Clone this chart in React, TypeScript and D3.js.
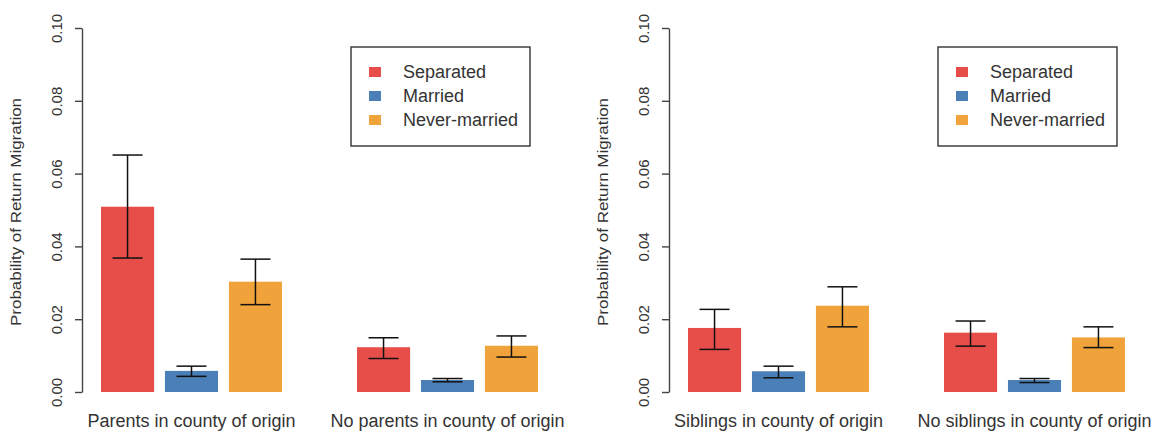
import * as d3 from "d3";
import { useEffect, useRef } from "react";

const statuses = ["Separated", "Married", "Never-married"];
const colors = ["#E84E49", "#4A7FB7", "#F0A33B"];
const yTicks = [0, 0.02, 0.04, 0.06, 0.08, 0.1];

const parentGroups = ["Parents in county of origin", "No parents in county of origin"];
const parentMeans = [
  [0.0509, 0.0058, 0.0303],
  [0.0123, 0.0033, 0.0127],
];
const parentLower = [
  [0.0368, 0.0043, 0.024],
  [0.0092, 0.0028, 0.0096],
];
const parentUpper = [
  [0.0651, 0.0071, 0.0365],
  [0.0149, 0.0037, 0.0154],
];

const siblingGroups = ["Siblings in county of origin", "No siblings in county of origin"];
const siblingMeans = [
  [0.0176, 0.0057, 0.0237],
  [0.0163, 0.0033, 0.015],
];
const siblingLower = [
  [0.0117, 0.0039, 0.0179],
  [0.0126, 0.0026, 0.0122],
];
const siblingUpper = [
  [0.0227, 0.0071, 0.0289],
  [0.0195, 0.0037, 0.0179],
];

const font = "'Liberation Sans', Arial, sans-serif";
const textColor = "#333";

function Panel({
  offset,
  groups,
  means,
  lower,
  upper,
}: {
  offset: number;
  groups: string[];
  means: number[][];
  lower: number[][];
  upper: number[][];
}) {
  const axisRef = useRef<SVGGElement>(null);
  const axisX = 82;

  const y = d3.scaleLinear().domain([0, 0.1]).range([392, 28]);
  const x0 = d3.scaleBand<string>().domain(groups).range([101, 538]).paddingInner(0.293).paddingOuter(0);
  const x1 = d3
    .scaleBand<string>()
    .domain(statuses)
    .range([0, x0.bandwidth()])
    .paddingInner(0.17)
    .paddingOuter(0);

  useEffect(() => {
    const g = d3.select(axisRef.current);
    g.selectAll("*").remove();
    g.call(
      d3
        .axisLeft(y)
        .tickValues(yTicks)
        .tickFormat(d3.format(".2f"))
        .tickSize(7)
        .tickSizeOuter(0)
    );
    g.select(".domain").attr("stroke", "#444").attr("stroke-width", 1.4);
    g.selectAll(".tick line").attr("stroke", "#444").attr("stroke-width", 1.4);
    g.selectAll(".tick text")
      .attr("transform", "rotate(-90)")
      .attr("text-anchor", "middle")
      .attr("x", 0)
      .attr("y", -20)
      .attr("dy", 0)
      .attr("fill", textColor)
      .style("font-family", font)
      .style("font-size", "15px");
  }, []);

  const capHalf = 15;

  return (
    <g transform={`translate(${offset},0)`}>
      <g ref={axisRef} transform={`translate(${axisX},0)`} />
      <text
        transform={`translate(21,212) rotate(-90)`}
        textAnchor="middle"
        fontFamily={font}
        fontSize={14}
        fill={textColor}
        textLength={228}
        lengthAdjust="spacingAndGlyphs"
      >
        Probability of Return Migration
      </text>
      {groups.map((grp, gi) => (
        <g key={grp} transform={`translate(${x0(grp)},0)`}>
          {statuses.map((s, si) => {
            const bx = x1(s) as number;
            const cx = bx + x1.bandwidth() / 2;
            return (
              <g key={s}>
                <rect
                  x={bx}
                  y={y(means[gi][si])}
                  width={x1.bandwidth()}
                  height={y(0) - y(means[gi][si])}
                  fill={colors[si]}
                />
                <line x1={cx} x2={cx} y1={y(lower[gi][si])} y2={y(upper[gi][si])} stroke="#111" strokeWidth={1.5} />
                <line
                  x1={cx - capHalf}
                  x2={cx + capHalf}
                  y1={y(lower[gi][si])}
                  y2={y(lower[gi][si])}
                  stroke="#111"
                  strokeWidth={1.5}
                />
                <line
                  x1={cx - capHalf}
                  x2={cx + capHalf}
                  y1={y(upper[gi][si])}
                  y2={y(upper[gi][si])}
                  stroke="#111"
                  strokeWidth={1.5}
                />
              </g>
            );
          })}
          <text
            x={x0.bandwidth() / 2}
            y={427}
            textAnchor="middle"
            fontFamily={font}
            fontSize={18}
            fill={textColor}
          >
            {grp}
          </text>
        </g>
      ))}
      <g>
        <rect x={351} y={47} width={179} height={99} fill="white" stroke="#333" strokeWidth={1.4} />
        {statuses.map((s, i) => (
          <g key={s} transform={`translate(0,${72 + i * 24})`}>
            <rect x={369} y={-5} width={12} height={10} fill={colors[i]} />
            <text x={403} y={6} fontFamily={font} fontSize={18} fill={textColor}>
              {s}
            </text>
          </g>
        ))}
      </g>
    </g>
  );
}

export default function App() {
  return (
    <svg
      width={1159}
      height={432}
      style={{ position: "absolute", left: 0, top: 0, background: "white" }}
    >
      <Panel offset={0} groups={parentGroups} means={parentMeans} lower={parentLower} upper={parentUpper} />
      <Panel offset={587} groups={siblingGroups} means={siblingMeans} lower={siblingLower} upper={siblingUpper} />
    </svg>
  );
}
